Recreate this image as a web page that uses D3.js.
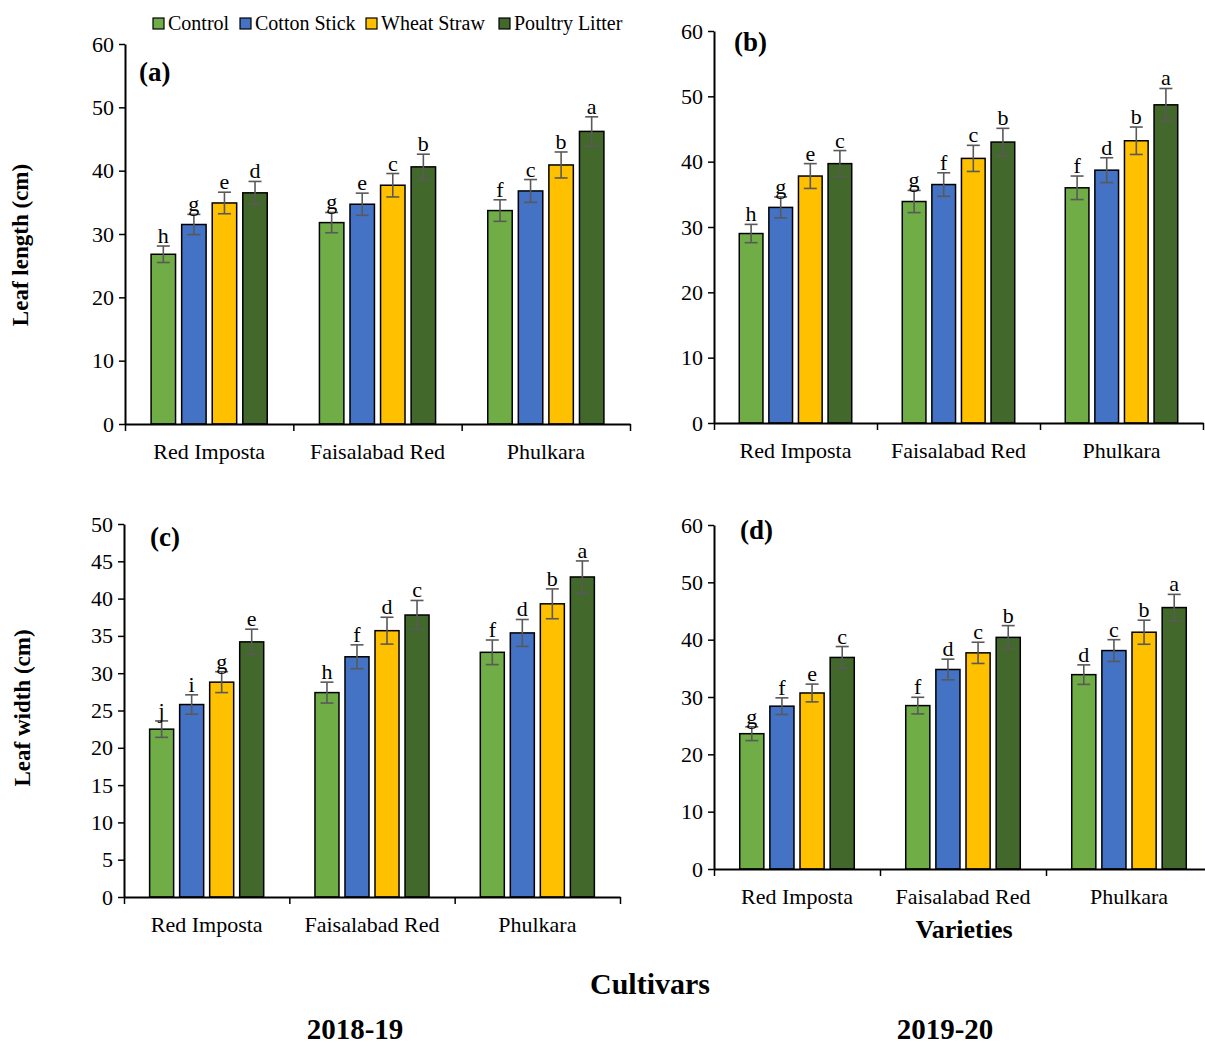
<!DOCTYPE html>
<html>
<head>
<meta charset="utf-8">
<script src="https://cdn.jsdelivr.net/npm/d3@7"></script>
<style>
  body { margin: 0; background: #fff; }
  svg text { font-family: "Liberation Serif", "Times New Roman", serif; fill: #000; }
</style>
</head>
<body>
<div id="chart-area"></div>
<script>
// categories and treatments
var cultivars = ["Red Imposta", "Faisalabad Red", "Phulkara"];
var treatments = ["Control", "Cotton Stick", "Wheat Straw", "Poultry Litter"];
var colors = ["#70ad47", "#4472c4", "#ffc000", "#43682b"];

// (a) leaf length 2018-19, rows = cultivars, cols = treatments
var lengthA = [[26.8, 31.5, 34.9, 36.5], [31.8, 34.7, 37.7, 40.6], [33.7, 36.8, 40.9, 46.2]];
var lengthAErr = [[1.3, 1.6, 1.7, 1.8], [1.6, 1.75, 1.85, 2.0], [1.7, 1.8, 2.05, 2.3]];
var lengthALetters = [["h", "g", "e", "d"], ["g", "e", "c", "b"], ["f", "c", "b", "a"]];

// (b) leaf length 2019-20
var lengthB = [[29.0, 33.0, 37.8, 39.7], [33.9, 36.5, 40.5, 43.0], [36.0, 38.7, 43.2, 48.7]];
var lengthBErr = [[1.4, 1.6, 1.9, 2.0], [1.7, 1.8, 2.0, 2.1], [1.8, 1.9, 2.1, 2.5]];
var lengthBLetters = [["h", "g", "e", "c"], ["g", "f", "c", "b"], ["f", "d", "b", "a"]];

// (c) leaf width 2018-19
var widthC = [[22.5, 25.8, 28.8, 34.2], [27.4, 32.2, 35.7, 37.8], [32.8, 35.4, 39.3, 42.9]];
var widthCErr = [[1.1, 1.3, 1.4, 1.7], [1.4, 1.6, 1.8, 1.95], [1.65, 1.8, 2.0, 2.15]];
var widthCLetters = [["j", "i", "g", "e"], ["h", "f", "d", "c"], ["f", "d", "b", "a"]];

// (d) leaf width 2019-20
var widthD = [[23.6, 28.4, 30.7, 36.9], [28.5, 34.8, 37.7, 40.4], [33.9, 38.1, 41.3, 45.6]];
var widthDErr = [[1.2, 1.45, 1.55, 1.9], [1.45, 1.8, 1.85, 2.05], [1.7, 1.9, 2.1, 2.3]];
var widthDLetters = [["g", "f", "e", "c"], ["f", "d", "c", "b"], ["d", "c", "b", "a"]];

// y ticks
var ticks60 = [0, 10, 20, 30, 40, 50, 60];
var ticks50 = [0, 5, 10, 15, 20, 25, 30, 35, 40, 45, 50];

var serif = "'Liberation Serif', 'Times New Roman', serif";

var svg = d3.select("#chart-area")
    .append("svg")
        .attr("width", 1205)
        .attr("height", 1047);

// panel layouts
var panels = [
    { tag: "(a)", vals: lengthA, err: lengthAErr, lett: lengthALetters, ymax: 60, ticks: ticks60,
      left: 125, right: 630, top: 44, bottom: 424, tagX: 139, tagY: 81 },
    { tag: "(b)", vals: lengthB, err: lengthBErr, lett: lengthBLetters, ymax: 60, ticks: ticks60,
      left: 714, right: 1203, top: 31, bottom: 423, tagX: 734, tagY: 51 },
    { tag: "(c)", vals: widthC, err: widthCErr, lett: widthCLetters, ymax: 50, ticks: ticks50,
      left: 124, right: 620, top: 524, bottom: 897, tagX: 150, tagY: 546 },
    { tag: "(d)", vals: widthD, err: widthDErr, lett: widthDLetters, ymax: 60, ticks: ticks60,
      left: 714, right: 1212, top: 525, bottom: 869, tagX: 740, tagY: 539 }
];

panels.forEach(drawPanel);

function drawPanel(p) {
    var width = p.right - p.left,
        height = p.bottom - p.top;

    var g = svg.append("g")
        .attr("transform", "translate(" + p.left + "," + p.top + ")");

    var y = d3.scaleLinear()
        .domain([0, p.ymax])
        .range([height, 0]);

    var x0 = d3.scaleBand()
        .domain(cultivars)
        .range([0, width])
        .paddingInner(0.31)
        .paddingOuter(0.155);

    var x1 = d3.scaleBand()
        .domain(treatments)
        .range([0, x0.bandwidth()])
        .paddingInner(0.2);

    // boundary ticks between categories
    var xb = d3.scaleLinear().domain([0, 3]).range([0, width]);

    // Y Axis
    var yAxis = g.append("g")
        .call(d3.axisLeft(y).tickValues(p.ticks).tickSize(6).tickSizeOuter(0).tickPadding(5));
    yAxis.attr("font-family", serif).attr("font-size", 22);
    yAxis.select(".domain").attr("stroke-width", 2);
    yAxis.selectAll(".tick line").attr("stroke-width", 1.5);
    yAxis.selectAll("text").attr("fill", "#000");

    // bars
    var groups = g.selectAll(".grp")
        .data(p.vals)
        .enter().append("g")
        .attr("transform", function(d, i){ return "translate(" + x0(cultivars[i]) + ",0)"; });

    groups.each(function(row, ci){
        var gg = d3.select(this);
        row.forEach(function(v, ti){
            var bx = x1(treatments[ti]),
                bw = x1.bandwidth(),
                cx = bx + bw / 2,
                e = p.err[ci][ti];
            gg.append("rect")
                .attr("x", bx)
                .attr("y", y(v))
                .attr("width", bw)
                .attr("height", height - y(v))
                .attr("fill", colors[ti])
                .attr("stroke", "#000")
                .attr("stroke-width", 1.5);
            // error bar
            var eb = gg.append("g").attr("stroke", "#595959").attr("stroke-width", 1.6);
            eb.append("line").attr("x1", cx).attr("x2", cx).attr("y1", y(v - e)).attr("y2", y(v + e));
            eb.append("line").attr("x1", cx - 6.5).attr("x2", cx + 6.5).attr("y1", y(v - e)).attr("y2", y(v - e));
            eb.append("line").attr("x1", cx - 6.5).attr("x2", cx + 6.5).attr("y1", y(v + e)).attr("y2", y(v + e));
            // letter
            gg.append("text")
                .attr("x", cx)
                .attr("y", y(v + e) - 3)
                .attr("text-anchor", "middle")
                .attr("font-size", "22px")
                .text(p.lett[ci][ti]);
        });
    });

    // X Axis
    var xAxis = g.append("g")
        .attr("transform", "translate(0," + height + ")")
        .call(d3.axisBottom(xb).tickValues([0, 1, 2, 3]).tickFormat("").tickSize(7).tickSizeOuter(0));
    xAxis.select(".domain").attr("stroke-width", 2);
    xAxis.selectAll(".tick line").attr("stroke-width", 1.5);

    g.selectAll(".cat")
        .data(cultivars)
        .enter().append("text")
        .attr("x", function(d){ return x0(d) + x0.bandwidth() / 2; })
        .attr("y", height + 35)
        .attr("text-anchor", "middle")
        .attr("font-size", "22px")
        .text(function(d){ return d; });

    svg.append("text")
        .attr("x", p.tagX)
        .attr("y", p.tagY)
        .attr("font-size", "27px")
        .attr("font-weight", "bold")
        .text(p.tag);
}

// legend
var legend = svg.append("g").attr("transform", "translate(153,24)");
var legX = [0, 87, 213, 346];
treatments.forEach(function(t, i){
    legend.append("rect")
        .attr("x", legX[i]).attr("y", -6)
        .attr("width", 11).attr("height", 11)
        .attr("fill", colors[i]).attr("stroke", "#000").attr("stroke-width", 1.2);
    legend.append("text")
        .attr("x", legX[i] + 15).attr("y", 6)
        .attr("font-size", "20px")
        .text(t);
});

// Y Labels
svg.append("text")
    .attr("transform", "translate(28,245) rotate(-90)")
    .attr("text-anchor", "middle")
    .attr("font-size", "23px")
    .attr("font-weight", "bold")
    .text("Leaf length (cm)");

svg.append("text")
    .attr("transform", "translate(30,708) rotate(-90)")
    .attr("text-anchor", "middle")
    .attr("font-size", "23px")
    .attr("font-weight", "bold")
    .text("Leaf width (cm)");

// bottom titles
svg.append("text")
    .attr("x", 964).attr("y", 938)
    .attr("text-anchor", "middle")
    .attr("font-size", "26px").attr("font-weight", "bold")
    .text("Varieties");

svg.append("text")
    .attr("x", 650).attr("y", 994)
    .attr("text-anchor", "middle")
    .attr("font-size", "30px").attr("font-weight", "bold")
    .text("Cultivars");

svg.append("text")
    .attr("x", 355).attr("y", 1039)
    .attr("text-anchor", "middle")
    .attr("font-size", "29px").attr("font-weight", "bold")
    .text("2018-19");

svg.append("text")
    .attr("x", 945).attr("y", 1039)
    .attr("text-anchor", "middle")
    .attr("font-size", "29px").attr("font-weight", "bold")
    .text("2019-20");
</script>
</body>
</html>
